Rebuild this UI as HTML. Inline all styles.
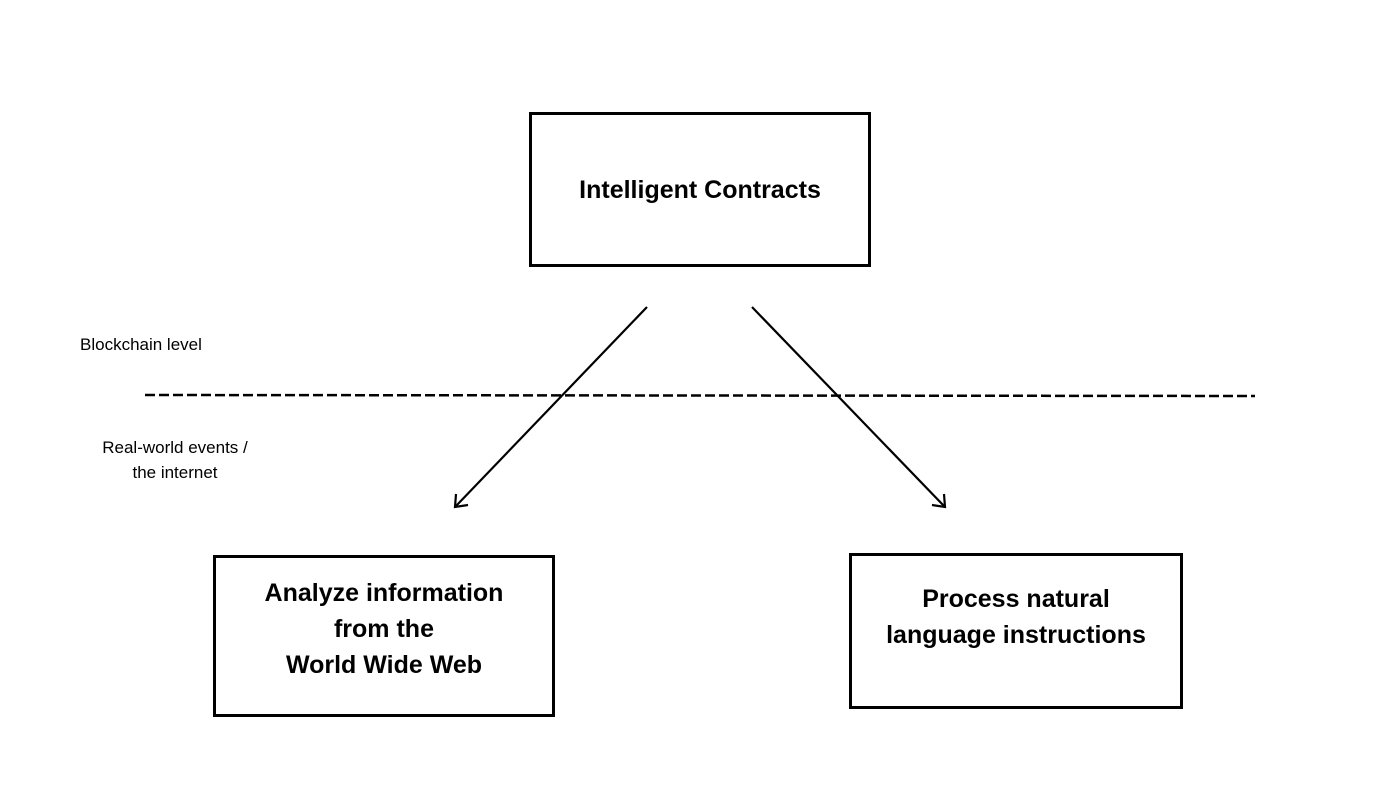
<!DOCTYPE html>
<html><head><meta charset="utf-8"><style>
html,body{margin:0;padding:0;background:#fff;}
body{width:1400px;height:788px;position:relative;overflow:hidden;font-family:"Liberation Sans",sans-serif;color:#000;}
.box{position:absolute;border:3px solid #000;box-sizing:border-box;display:flex;align-items:center;justify-content:center;text-align:center;font-weight:bold;font-size:25px;line-height:36px;}
.lbl{position:absolute;font-size:17px;line-height:25px;}
</style></head><body>
<div class="box" style="left:529px;top:112px;width:342px;height:155px;">Intelligent Contracts</div>
<div class="box" style="left:213px;top:555px;width:342px;height:162px;padding-bottom:14px;">Analyze information<br>from the<br>World Wide Web</div>
<div class="box" style="left:849px;top:553px;width:334px;height:156px;padding-bottom:28px;">Process natural<br>language instructions</div>
<div class="lbl" style="left:80px;top:332px;">Blockchain level</div>
<div class="lbl" style="left:80px;top:435px;width:190px;text-align:center;">Real-world events /<br>the internet</div>
<svg width="1400" height="788" style="position:absolute;left:0;top:0;">
<line x1="145" y1="395" x2="1255" y2="396" stroke="#000" stroke-width="2.5" stroke-dasharray="10,4"/>
<line x1="647" y1="307" x2="456" y2="506" stroke="#000" stroke-width="2.2"/>
<polyline points="456,494 455,507 468,505" fill="none" stroke="#000" stroke-width="2.2"/>
<line x1="752" y1="307" x2="944" y2="506" stroke="#000" stroke-width="2.2"/>
<polyline points="932,505 945,507 944,494" fill="none" stroke="#000" stroke-width="2.2"/>
</svg>
</body></html>
